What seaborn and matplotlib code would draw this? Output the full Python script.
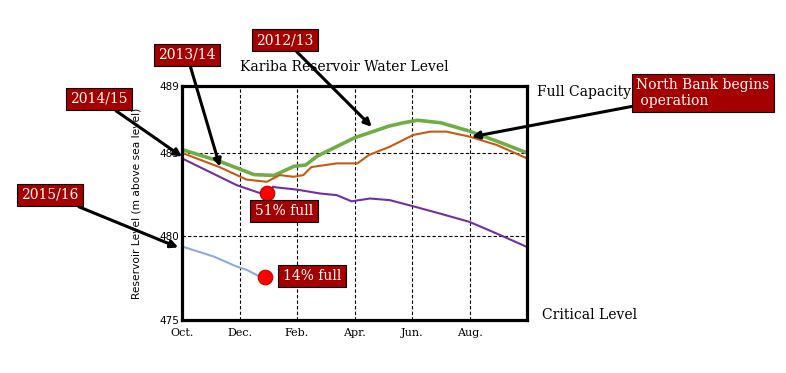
import numpy as np
import pandas as pd
import matplotlib
matplotlib.use("Agg")
import matplotlib.pyplot as plt
import seaborn as sns

# ----------------- data (months after 1 Oct, level in m) -----------------
green_x = [0.0, 1.3, 2.5, 3.2, 3.9, 4.3, 4.7, 6.0, 7.2, 7.7, 8.2, 9.0, 10.0, 10.95, 12.0]
green_y = [485.2, 484.5, 483.7, 483.65, 484.2, 484.27, 484.8, 485.9, 486.6, 486.8, 486.95, 486.8, 486.3, 485.7, 485.0]

orange_x = [0.0, 1.3, 2.25, 2.95, 3.4, 3.87, 4.22, 4.5, 5.38, 6.1, 6.5, 7.23, 7.58, 8.04, 8.63, 9.2, 10.0, 10.95, 12.0]
orange_y = [485.0, 484.15, 483.4, 483.27, 483.67, 483.57, 483.67, 484.15, 484.37, 484.37, 484.87, 485.37, 485.67, 486.07, 486.27, 486.27, 485.97, 485.47, 484.67]

purple_x = [0.0, 1.9, 2.7, 3.05, 3.16, 3.3, 4.0, 4.8, 5.38, 5.9, 6.54, 7.23, 8.05, 8.97, 10.0, 10.95, 12.0]
purple_y = [484.67, 483.07, 482.6, 482.57, 482.97, 482.93, 482.8, 482.57, 482.47, 482.1, 482.27, 482.17, 481.8, 481.37, 480.87, 480.17, 479.37]

blue_x = [0.0, 1.1, 1.9, 2.25, 2.7]
blue_y = [479.4, 478.8, 478.2, 478.0, 477.6]

dot_x = [2.95, 2.9]
dot_y = [482.6, 477.57]
dot_labels = ['51% full', '14% full']

month_ticks = [0, 2, 4, 6, 8, 10]
month_labels = ['Oct.', 'Dec.', 'Feb.', 'Apr.', 'Jun.', 'Aug.']
level_ticks = [475, 480, 485, 489]

season_labels = ['2012/13', '2013/14', '2014/15', '2015/16']
season_colors = ['#70AD47', '#C55A11', '#7030A0', '#8FAADC']
# -------------------------------------------------------------------------

BOX_RED = '#A50000'
W, H = 786, 373


def fig_px(x, y):
    # pixel from top-left -> figure fraction
    return (x / W, 1 - y / H)


frames = []
for lab, xs, ys in zip(season_labels, [green_x, orange_x, purple_x, blue_x],
                       [green_y, orange_y, purple_y, blue_y]):
    frames.append(pd.DataFrame({'month': xs, 'level': ys, 'season': lab}))
df = pd.concat(frames, ignore_index=True)

sns.set_style('white')
plt.rcParams.update({'text.color': 'black', 'axes.labelcolor': 'black',
                     'xtick.color': 'black', 'ytick.color': 'black'})
fig = plt.figure(figsize=(7.86, 3.73), dpi=100)
ax = fig.add_axes([182 / W, 1 - 320 / H, 345 / W, 234 / H])

for lab, col in zip(season_labels, season_colors):
    sub = df[df['season'] == lab]
    sns.lineplot(data=sub, x='month', y='level', color=col,
                 lw=2.6 if lab == '2012/13' else 1.5, ax=ax, legend=False)

dots = pd.DataFrame({'month': dot_x, 'level': dot_y})
sns.scatterplot(data=dots, x='month', y='level', s=110, color='#FF0000',
                edgecolor='#C00000', linewidth=0.8, zorder=5, ax=ax)

ax.set_xlim(0, 12)
ax.set_ylim(475, 489)
ax.set_xticks(month_ticks)
ax.set_xticklabels(month_labels, family='DejaVu Serif', fontsize=8)
ax.set_yticks(level_ticks)
ax.set_yticklabels([str(v) for v in level_ticks], fontsize=7.5)
ax.tick_params(length=0, pad=2)
ax.tick_params(axis='x', pad=6)
ax.grid(True, color='black', linestyle=(0, (3, 2)), lw=0.8)
for s in ax.spines.values():
    s.set_linewidth(2.3)
    s.set_color('black')
ax.set_xlabel('')
ax.set_ylabel('Reservoir Level (m above sea level)', fontsize=7.7, labelpad=13)

fig.text(*fig_px(344, 67), 'Kariba Reservoir Water Level', family='DejaVu Serif',
         fontsize=10, ha='center', va='center')
fig.text(*fig_px(537, 92), 'Full Capacity', family='DejaVu Serif',
         fontsize=10, ha='left', va='center')
fig.text(*fig_px(542, 315), 'Critical Level', family='DejaVu Serif',
         fontsize=10, ha='left', va='center')

box = dict(boxstyle='square,pad=0.32', fc=BOX_RED, ec='black', lw=0.8)
arrow = dict(arrowstyle='-|>', color='black', lw=2.2, mutation_scale=11,
             shrinkA=0, shrinkB=0)

# season labels with arrows (box centre in pixels, arrow tip in data)
callouts = [
    ('2012/13', (285, 40), (6.6, 486.56)),
    ('2013/14', (187, 55), (1.32, 484.17)),
    ('2014/15', (99, 99), (0.0, 484.77)),
    ('2015/16', (50, 195), (-0.13, 479.34)),
]
for txt, (bx, by), tip in callouts:
    ax.annotate(txt, xy=tip, xycoords='data', xytext=fig_px(bx, by),
                textcoords='figure fraction', ha='center', va='center',
                color='white', family='DejaVu Serif', fontsize=10,
                bbox=box, arrowprops=arrow, annotation_clip=False, zorder=10)

ax.annotate('North Bank begins\n operation', xy=(10.08, 485.96), xycoords='data',
            xytext=fig_px(636, 93), textcoords='figure fraction', ha='left',
            va='center', color='white', family='DejaVu Serif', fontsize=10,
            linespacing=1.15, bbox=box, arrowprops=arrow,
            annotation_clip=False, zorder=10)

# fill-level labels beside the red dots
for (bx, by), txt in zip([(284, 211), (312, 276)], dot_labels):
    fig.text(*fig_px(bx, by), txt, ha='center', va='center', color='white',
             family='DejaVu Serif', fontsize=10, bbox=box)

plt.savefig('out.png', dpi=100)
